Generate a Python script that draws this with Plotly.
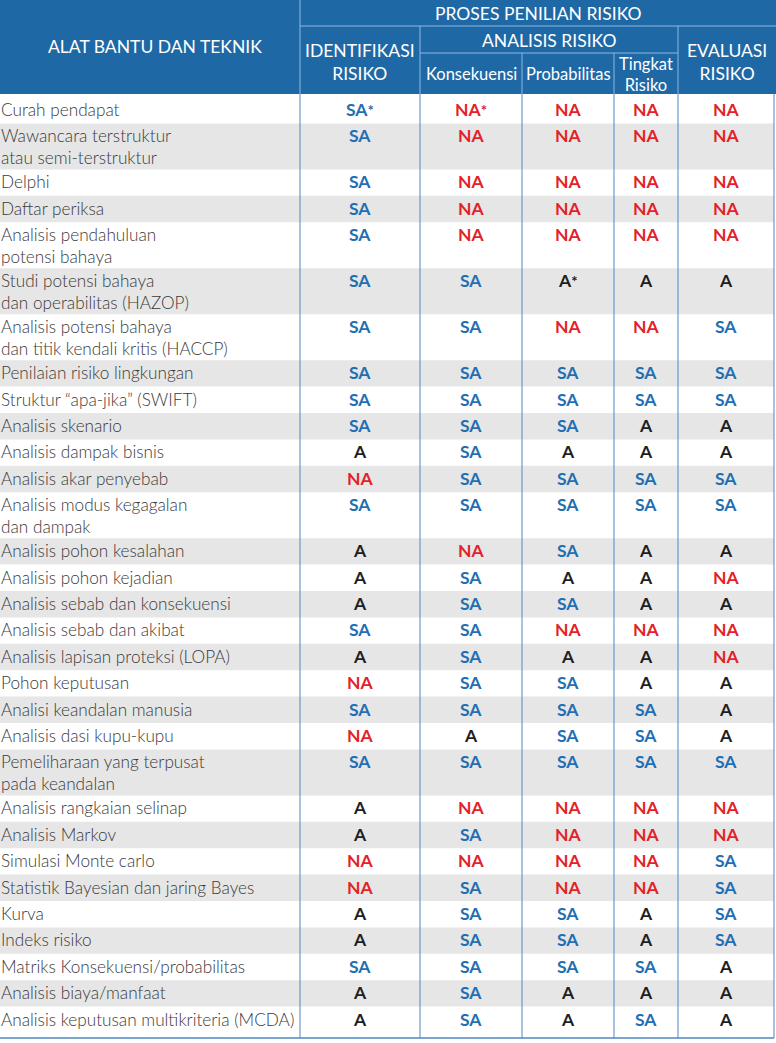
import plotly.graph_objects as go

# ---------------- data ----------------
tools = [
    "Curah pendapat",
    "Wawancara terstruktur<br>atau semi-terstruktur",
    "Delphi",
    "Daftar periksa",
    "Analisis pendahuluan<br>potensi bahaya",
    "Studi potensi bahaya<br>dan operabilitas (HAZOP)",
    "Analisis potensi bahaya<br>dan titik kendali kritis (HACCP)",
    "Penilaian risiko lingkungan",
    "Struktur “apa-jika” (SWIFT)",
    "Analisis skenario",
    "Analisis dampak bisnis",
    "Analisis akar penyebab",
    "Analisis modus kegagalan<br>dan dampak",
    "Analisis pohon kesalahan",
    "Analisis pohon kejadian",
    "Analisis sebab dan konsekuensi",
    "Analisis sebab dan akibat",
    "Analisis lapisan proteksi (LOPA)",
    "Pohon keputusan",
    "Analisi keandalan manusia",
    "Analisis dasi kupu-kupu",
    "Pemeliharaan yang terpusat<br>pada keandalan",
    "Analisis rangkaian selinap",
    "Analisis Markov",
    "Simulasi Monte carlo",
    "Statistik Bayesian dan jaring Bayes",
    "Kurva",
    "Indeks risiko",
    "Matriks Konsekuensi/probabilitas",
    "Analisis biaya/manfaat",
    "Analisis keputusan multikriteria (MCDA)",
]

identifikasi = ["SA*", "SA", "SA", "SA", "SA", "SA", "SA", "SA", "SA", "SA", "A",
                "NA", "SA", "A", "A", "A", "SA", "A", "NA", "SA", "NA", "SA",
                "A", "A", "NA", "NA", "A", "A", "SA", "A", "A"]
konsekuensi = ["NA*", "NA", "NA", "NA", "NA", "SA", "SA", "SA", "SA", "SA", "SA",
               "SA", "SA", "NA", "SA", "SA", "SA", "SA", "SA", "SA", "A", "SA",
               "NA", "SA", "NA", "SA", "SA", "SA", "SA", "SA", "SA"]
probabilitas = ["NA", "NA", "NA", "NA", "NA", "A*", "NA", "SA", "SA", "SA", "A",
                "SA", "SA", "SA", "A", "SA", "NA", "A", "SA", "SA", "SA", "SA",
                "NA", "NA", "NA", "NA", "SA", "SA", "SA", "A", "A"]
tingkat = ["NA", "NA", "NA", "NA", "NA", "A", "NA", "SA", "SA", "A", "A",
           "SA", "SA", "A", "A", "A", "NA", "A", "A", "SA", "SA", "SA",
           "NA", "NA", "NA", "NA", "A", "A", "SA", "A", "SA"]
evaluasi = ["NA", "NA", "NA", "NA", "NA", "A", "SA", "SA", "SA", "A", "A",
            "SA", "SA", "A", "NA", "A", "NA", "NA", "A", "A", "A", "SA",
            "NA", "NA", "SA", "SA", "SA", "SA", "A", "A", "A"]

header_top = "PROSES PENILIAN RISIKO"
header_left = "ALAT BANTU DAN TEKNIK"
header_ident = "IDENTIFIKASI<br>RISIKO"
header_analisis = "ANALISIS RISIKO"
header_eval = "EVALUASI<br>RISIKO"
sub_headers = ["Konsekuensi", "Probabilitas", "Tingkat<br>Risiko"]

# ---------------- layout constants ----------------
W, H = 776, 1043
HEADER_BLUE = "#1f68a6"
HEADER_LINE = "#8fb9df"
BODY_LINE = "#4f87bf"
GRAY = "#e6e6e6"
COL_SA = "#1f6fb2"
COL_NA = "#e32228"
COL_A = "#1e1e1e"
TXT = "#3a3a3a"

x_edges = [300, 420, 522, 614, 678, 774]
hdr_y1, hdr_y2, hdr_bottom = 26, 53, 94
table_bottom = 1038
single_h, double_h, first_pad = 26.4, 46.0, 3.0
line_gap = 22

FONT = "Lato"
value_font = dict(family=FONT, size=17.5, weight=700)
label_font = dict(family=FONT, size=17.2, color=TXT, weight=300)
head_font = dict(family=FONT, size=17.5, color="white")
sub_font = dict(family=FONT, size=16.5, color="white")

shapes = []
annotations = []


def rect(x0, y0, x1, y1, color):
    shapes.append(dict(type="rect", xref="x", yref="y", x0=x0, x1=x1, y0=y0, y1=y1,
                       fillcolor=color, line=dict(width=0), layer="below"))


def line(x0, y0, x1, y1, color, width=1):
    shapes.append(dict(type="line", xref="x", yref="y", x0=x0, x1=x1, y0=y0, y1=y1,
                       line=dict(color=color, width=width), layer="above"))


def text(x, y, s, font, xanchor="center", xshift=0):
    annotations.append(dict(x=x, y=y, xref="x", yref="y", text=s, showarrow=False,
                            xanchor=xanchor, yanchor="middle", font=font, xshift=xshift))


# header
rect(0, 0, W, hdr_bottom, HEADER_BLUE)
line(x_edges[0], 0, x_edges[0], hdr_bottom, HEADER_LINE)
line(x_edges[0], hdr_y1, W, hdr_y1, HEADER_LINE)
line(x_edges[1], hdr_y1, x_edges[1], hdr_bottom, HEADER_LINE)
line(x_edges[4], hdr_y1, x_edges[4], hdr_bottom, HEADER_LINE)
line(x_edges[1], hdr_y2, x_edges[4], hdr_y2, HEADER_LINE)
line(x_edges[2], hdr_y2, x_edges[2], hdr_bottom, HEADER_LINE)
line(x_edges[3], hdr_y2, x_edges[3], hdr_bottom, HEADER_LINE)

text(x_edges[0] / 2 + 5, 46, header_left, head_font)
text((x_edges[0] + W) / 2, 13, header_top, head_font)
text((x_edges[0] + x_edges[1]) / 2, 62, header_ident, head_font)
text((x_edges[1] + x_edges[4]) / 2, 40, header_analisis, head_font)
text((x_edges[4] + W) / 2, 62, header_eval, head_font)
for i, s in enumerate(sub_headers):
    cx = (x_edges[1 + i] + x_edges[2 + i]) / 2
    text(cx, 74, s, sub_font)

# rows
columns = [identifikasi, konsekuensi, probabilitas, tingkat, evaluasi]
color_map = {"SA": COL_SA, "NA": COL_NA, "A": COL_A}

y = hdr_bottom
n = len(tools)
for r, label in enumerate(tools):
    lines = label.split("<br>")
    h = double_h if len(lines) > 1 else single_h
    top = y
    pad = first_pad if r == 0 else 0
    h += pad
    bottom = table_bottom if r == n - 1 else top + h
    if r % 2 == 1:
        rect(0, top, x_edges[-1], bottom, GRAY)
    ty = top + pad + 12.5
    for k, ln in enumerate(lines):
        text(0, ty + k * line_gap, ln, label_font, xanchor="left", xshift=-1)
    for c, col in enumerate(columns):
        v = col[r]
        base = v.rstrip("*")
        s = base + ("<span style='font-size:15px'>*</span>" if v.endswith("*") else "")
        cx = (x_edges[c] + x_edges[c + 1]) / 2
        text(cx, ty, s, dict(value_font, color=color_map[base]))
    y = bottom

for xe in x_edges:
    line(xe, hdr_bottom, xe, table_bottom, BODY_LINE)
line(0, table_bottom, x_edges[-1], table_bottom, BODY_LINE, 1.5)

fig = go.Figure()
fig.update_layout(
    width=W, height=H,
    margin=dict(l=0, r=0, t=0, b=0),
    paper_bgcolor="white", plot_bgcolor="white",
    xaxis=dict(range=[0, W], visible=False, fixedrange=True),
    yaxis=dict(range=[H, 0], visible=False, fixedrange=True),
    shapes=shapes, annotations=annotations, showlegend=False,
)
fig.write_html(
    "out.html",
    config={"displayModeBar": False},
    post_script="document.body.style.margin='0';document.body.style.overflow='hidden';",
)
